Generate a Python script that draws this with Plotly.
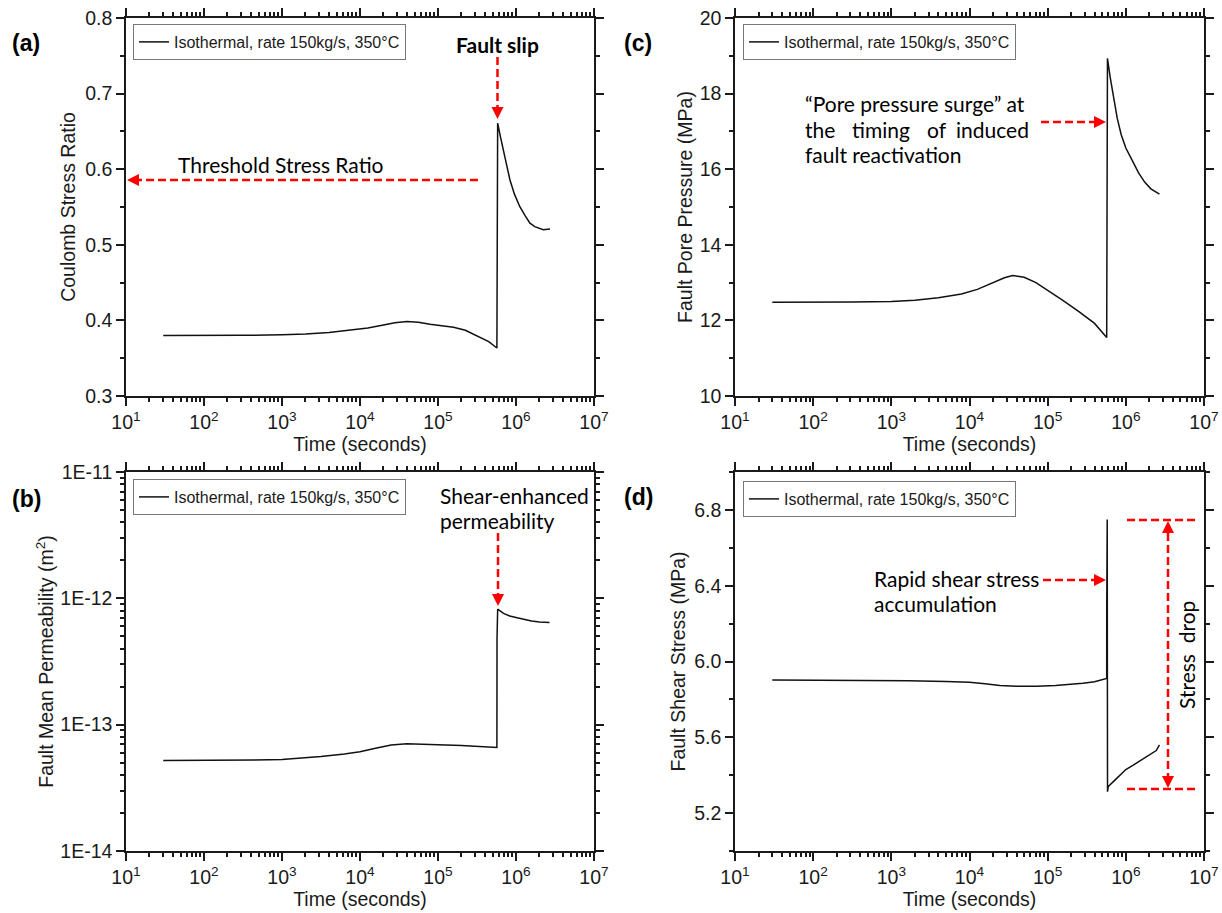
import plotly.graph_objects as go

# ---------------- data ----------------
series_name = "Isothermal, rate 150kg/s, 350°C"

# (a) Coulomb stress ratio
time_a = [30, 100, 316, 1000, 2000, 4000, 7900, 1.26e4, 2.0e4, 2.8e4,
          4.0e4, 5.6e4, 7.9e4, 1.12e5, 1.58e5, 2.24e5, 3.16e5, 4.47e5, 5.69e5, 5.71e5,
          5.82e5, 6.31e5, 6.87e5, 7.59e5, 8.37e5, 9.55e5, 1.12e6, 1.32e6, 1.51e6, 1.74e6,
          1.93e6, 2.24e6, 2.73e6]
stress_ratio = [0.380, 0.380, 0.3802, 0.381, 0.382, 0.384, 0.387, 0.390, 0.394, 0.397,
                0.3985, 0.3975, 0.395, 0.393, 0.391, 0.387, 0.380, 0.372, 0.3635, 0.423,
                0.661, 0.643, 0.6254, 0.605, 0.5857, 0.567, 0.5504, 0.538, 0.5286, 0.524,
                0.522, 0.520, 0.521]

# (b) Fault mean permeability (m2)
time_b = [30, 400, 447, 1000, 1260, 3160, 6310, 1e4, 1.58e4, 2.51e4,
          3.98e4, 6.31e4, 1e5, 2e5, 3.98e5, 5.69e5, 5.71e5, 5.82e5, 6.92e5, 8.32e5,
          1e6, 1.26e6, 1.58e6, 2.0e6, 2.69e6]
permeability = [5.2e-14, 5.2e-14, 5.25e-14, 5.3e-14, 5.35e-14, 5.6e-14, 5.85e-14, 6.1e-14,
                6.5e-14, 6.9e-14, 7.05e-14, 7.02e-14, 6.95e-14, 6.85e-14, 6.7e-14, 6.6e-14,
                4.8e-13, 8.2e-13, 7.6e-13, 7.25e-13, 7.05e-13, 6.8e-13, 6.62e-13, 6.5e-13,
                6.45e-13]

# (c) Fault pore pressure (MPa)
time_c = [30, 100, 316, 1000, 2000, 4000, 7900, 1.26e4, 2.0e4, 2.8e4,
          3.55e4, 5.01e4, 7.08e4, 1e5, 1.58e5, 2.51e5, 3.98e5, 5.69e5, 5.71e5, 5.82e5,
          6.31e5, 7.0e5, 7.76e5, 8.71e5, 1e6, 1.23e6, 1.45e6, 1.74e6, 2.09e6, 2.69e6]
pore_pressure = [12.48, 12.48, 12.485, 12.5, 12.53, 12.6, 12.7, 12.82, 13.0, 13.13,
                 13.19, 13.14, 13.0, 12.8, 12.52, 12.23, 11.92, 11.55, 18.80, 18.93,
                 18.43, 17.85, 17.35, 16.92, 16.56, 16.2, 15.91, 15.66, 15.48, 15.34]

# (d) Fault shear stress (MPa)
time_d = [30, 1410, 1660, 5010, 1e4, 1.58e4, 2.45e4, 3.98e4, 7.24e4, 1.26e5,
          2e5, 2.82e5, 3.98e5, 5.01e5, 5.69e5, 5.70e5, 5.78e5, 5.83e5, 5.96e5, 7.08e5,
          8.32e5, 1e6, 1.23e6, 1.51e6, 1.86e6, 2.19e6, 2.45e6, 2.69e6]
shear_stress = [5.902, 5.902, 5.899, 5.895, 5.890, 5.882, 5.874, 5.870, 5.870, 5.874,
                5.879, 5.885, 5.893, 5.902, 5.911, 6.29, 6.75, 5.313, 5.34, 5.37,
                5.40, 5.43, 5.452, 5.475, 5.498, 5.515, 5.53, 5.56]

# tick labels
x_tickvals = [1e1, 1e2, 1e3, 1e4, 1e5, 1e6, 1e7]
x_ticktext = ["10<sup>1</sup>", "10<sup>2</sup>", "10<sup>3</sup>", "10<sup>4</sup>",
              "10<sup>5</sup>", "10<sup>6</sup>", "10<sup>7</sup>"]
perm_tickvals = [1e-14, 1e-13, 1e-12, 1e-11]
perm_ticktext = ["1E-14", "1E-13", "1E-12", "1E-11"]

# ---------------- layout helpers ----------------
W, H = 1222, 913
def X(p):
    return p / W
def Y(p):
    return 1 - p / H

AX_COLOR = "#1a1a1a"
TXT = "#1a1a1a"
AXFONT = "Arial, Liberation Sans, sans-serif"
NOTEFONT = "Lato, Open Sans, sans-serif"

x_minor = [k * 10 ** n for n in range(1, 7) for k in range(2, 10)]
perm_minor = [k * 10 ** n for n in range(-14, -11) for k in range(2, 10)]

def base_axis(**kw):
    d = dict(showline=True, linecolor=AX_COLOR, linewidth=1.5, mirror="allticks",
             ticks="outside", ticklen=8, tickwidth=1.5, tickcolor=AX_COLOR,
             showgrid=False, zeroline=False, automargin=False,
             tickfont=dict(family=AXFONT, size=19.5, color=TXT))
    d.update(kw)
    return d

def x_axis(domain, anchor):
    return base_axis(domain=domain, anchor=anchor, type="log", range=[1, 7],
                     tickmode="array", tickvals=x_tickvals, ticktext=x_ticktext,
                     minor=dict(tickmode="array", tickvals=x_minor, ticks="outside",
                                ticklen=4, tickwidth=1.5, tickcolor=AX_COLOR),
                     title=dict(text="Time (seconds)", standoff=3,
                                font=dict(family=AXFONT, size=19.5, color=TXT)))

panels = {
    "a": (126, 594, 18, 396),
    "c": (735, 1204, 18, 396),
    "b": (126, 594, 472, 851),
    "d": (735, 1204, 472, 851),
}
def xdom(k):
    L, R, T, B = panels[k]
    return [X(L), X(R)]
def ydom(k):
    L, R, T, B = panels[k]
    return [Y(B), Y(T)]

fig = go.Figure()
line_style = dict(color="#111111", width=1.5)
fig.add_trace(go.Scatter(x=time_a, y=stress_ratio, mode="lines", line=line_style,
                         name=series_name, xaxis="x", yaxis="y", legend="legend"))
fig.add_trace(go.Scatter(x=time_c, y=pore_pressure, mode="lines", line=line_style,
                         name=series_name, xaxis="x2", yaxis="y2", legend="legend2"))
fig.add_trace(go.Scatter(x=time_b, y=permeability, mode="lines", line=line_style,
                         name=series_name, xaxis="x3", yaxis="y3", legend="legend3"))
fig.add_trace(go.Scatter(x=time_d, y=shear_stress, mode="lines", line=line_style,
                         name=series_name, xaxis="x4", yaxis="y4", legend="legend4"))

ytitle_font = dict(family=AXFONT, size=19.5, color=TXT)
layout = dict(
    width=W, height=H, margin=dict(l=0, r=0, t=0, b=0),
    paper_bgcolor="white", plot_bgcolor="white", showlegend=True,
    xaxis=x_axis(xdom("a"), "y"),
    yaxis=base_axis(domain=ydom("a"), anchor="x", range=[0.3, 0.8], dtick=0.1, tick0=0.3,
                    tickformat=".1f",
                    minor=dict(dtick=0.05, ticks="outside", ticklen=4, tickwidth=1.5,
                               tickcolor=AX_COLOR),
                    title=dict(text="Coulomb Stress Ratio", standoff=4, font=ytitle_font)),
    xaxis2=x_axis(xdom("c"), "y2"),
    yaxis2=base_axis(domain=ydom("c"), anchor="x2", range=[10, 20], dtick=2, tick0=10,
                     minor=dict(dtick=1, ticks="outside", ticklen=4, tickwidth=1.5,
                                tickcolor=AX_COLOR),
                     title=dict(text="Fault Pore Pressure (MPa)", standoff=2,
                                font=ytitle_font)),
    xaxis3=x_axis(xdom("b"), "y3"),
    yaxis3=base_axis(domain=ydom("b"), anchor="x3", type="log", range=[-14, -11],
                     tickmode="array", tickvals=perm_tickvals, ticktext=perm_ticktext,
                     minor=dict(tickmode="array", tickvals=perm_minor, ticks="outside",
                                ticklen=4, tickwidth=1.5, tickcolor=AX_COLOR),
                     title=dict(text="Fault Mean Permeability (m<sup>2</sup>)", standoff=1,
                                font=ytitle_font)),
    xaxis4=x_axis(xdom("d"), "y4"),
    yaxis4=base_axis(domain=ydom("d"), anchor="x4", range=[5.0, 7.0], dtick=0.4, tick0=5.2,
                     tickformat=".1f",
                     minor=dict(dtick=0.2, tick0=5.0, ticks="outside", ticklen=4,
                                tickwidth=1.5, tickcolor=AX_COLOR),
                     title=dict(text="Fault Shear Stress (MPa)", standoff=3,
                                font=ytitle_font)),
)

def legend_at(left_px, top_px):
    return dict(x=X(left_px), y=Y(top_px), xanchor="left", yanchor="top",
                bordercolor="#777777", borderwidth=1, bgcolor="white",
                font=dict(family=AXFONT, size=16, color=TXT), itemwidth=30)

layout["legend"] = legend_at(133, 24)
layout["legend2"] = legend_at(743, 24)
layout["legend3"] = legend_at(133, 479)
layout["legend4"] = legend_at(743, 481)
fig.update_layout(**layout)

# ---------------- annotations: red dashed arrows ----------------
RED = "#FF0000"
shapes = []
def dashed(x0, y0, x1, y1):
    shapes.append(dict(type="line", xref="paper", yref="paper", x0=X(x0), y0=Y(y0),
                       x1=X(x1), y1=Y(y1),
                       line=dict(color=RED, width=2.5, dash="8px,4px")))
def head(tx, ty, direction, length=12, half=6):
    if direction == "down":
        pts = [(tx, ty), (tx - half, ty - length), (tx + half, ty - length)]
    elif direction == "up":
        pts = [(tx, ty), (tx - half, ty + length), (tx + half, ty + length)]
    elif direction == "left":
        pts = [(tx, ty), (tx + length, ty - half), (tx + length, ty + half)]
    else:
        pts = [(tx, ty), (tx - length, ty - half), (tx - length, ty + half)]
    path = "M " + " L ".join(f"{X(px):.5f},{Y(py):.5f}" for px, py in pts) + " Z"
    shapes.append(dict(type="path", xref="paper", yref="paper", path=path,
                       fillcolor=RED, line=dict(width=0)))

# (a) fault slip arrow
dashed(497.5, 57, 497.5, 108); head(497.5, 119, "down")
# (a) threshold arrow
dashed(478, 180, 138, 180); head(127, 180, "left")
# (b) shear-enhanced arrow
dashed(498, 533, 498, 595); head(498, 606, "down")
# (c) pore pressure surge arrow
dashed(1041, 122, 1095, 122); head(1106, 122, "right")
# (d) rapid shear stress arrow
dashed(1043, 580, 1095, 580); head(1106, 580, "right")
# (d) stress drop
dashed(1127, 520, 1197, 520)
dashed(1127, 789, 1197, 789)
dashed(1168, 533, 1168, 776); head(1168, 521, "up"); head(1168, 788, "down")

fig.update_layout(shapes=shapes)

annots = []
def note(text, x, y, size=21, bold=False, xanchor="center", angle=0, family=NOTEFONT,
         align="left"):
    if bold:
        text = f"<b>{text}</b>"
    annots.append(dict(text=text, xref="paper", yref="paper", x=X(x), y=Y(y),
                       xanchor=xanchor, yanchor="middle", showarrow=False,
                       textangle=angle, align=align,
                       font=dict(family=family, size=size, color="#000000")))

note("Fault slip", 497, 45, bold=True)
note("Threshold Stress Ratio", 281, 164)
note("Shear-enhanced", 438, 495, xanchor="left")
note("permeability", 438, 520, xanchor="left")
note("\u201cPore pressure surge\u201d at", 803, 104, xanchor="left")
note("the", 803, 129, xanchor="left")
note("timing", 850, 129, xanchor="left")
note("of", 925, 129, xanchor="left")
note("induced", 1031, 129, xanchor="right")
note("fault reactivation", 803, 154, xanchor="left")
note("Rapid shear stress", 872, 578, xanchor="left")
note("accumulation", 872, 603, xanchor="left")
note("Stress  drop", 1186, 655, angle=-90)

# panel labels
for lab, x, y in [("(a)", 10, 43), ("(b)", 10, 499), ("(c)", 622, 43), ("(d)", 622, 497)]:
    note(lab, x, y, size=23, bold=True, xanchor="left", family=AXFONT)

fig.update_layout(annotations=annots)
fig.write_html("out.html", config={"displayModeBar": False},
               post_script="document.body.style.margin='0';"
                           "document.body.style.overflow='hidden';")
